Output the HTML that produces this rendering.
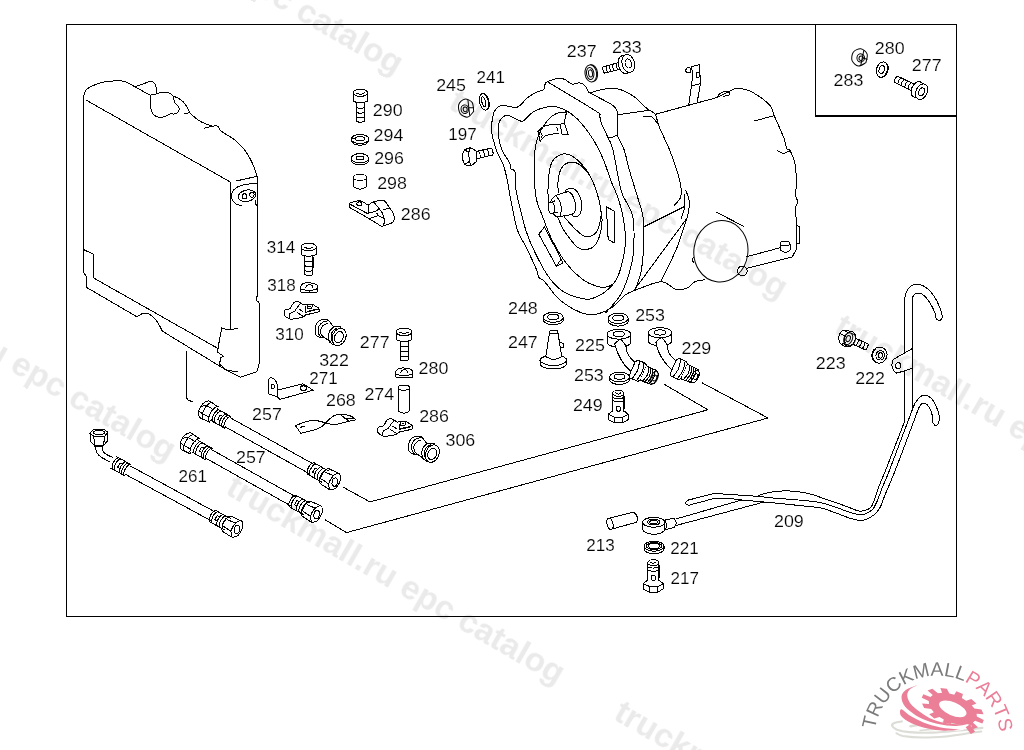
<!DOCTYPE html>
<html><head><meta charset="utf-8"><title>EPC catalog diagram</title>
<style>
html,body{margin:0;padding:0;background:#fff;}
body{width:1024px;height:750px;overflow:hidden;font-family:"Liberation Sans",sans-serif;}
svg{display:block;position:absolute;left:0;top:0;}
.wm text{font-family:"Liberation Sans",sans-serif;font-weight:bold;font-size:33px;fill:#eaeaea;}
.ink{shape-rendering:crispEdges;fill:none;stroke:#000;stroke-width:1;stroke-linecap:round;stroke-linejoin:round;}
.ink text{font-family:"Liberation Sans",sans-serif;fill:#000;stroke:#fff;stroke-width:0.16px;shape-rendering:auto;}
.logo text{font-family:"Liberation Sans",sans-serif;}
</style></head><body>
<svg width="1024" height="750" viewBox="0 0 1024 750">
<rect width="1024" height="750" fill="#fff"/>
<g class="ink" style="filter:grayscale(1)">
<path d="M66.5 24.5 L956.5 24.5 L956.5 616.5 L66.5 616.5Z" stroke-width="1.3"/>
<path d="M815.5 24.5 L815.5 116 L956.5 116" stroke-width="1.3"/>
<text x="372.8" y="115.6" textLength="29.8" lengthAdjust="spacingAndGlyphs" font-size="15.7">290</text>
<text x="373.6" y="141" textLength="29.8" lengthAdjust="spacingAndGlyphs" font-size="15.7">294</text>
<text x="374.2" y="163.6" textLength="29.8" lengthAdjust="spacingAndGlyphs" font-size="15.7">296</text>
<text x="377.2" y="188.6" textLength="29.8" lengthAdjust="spacingAndGlyphs" font-size="15.7">298</text>
<text x="400.8" y="219.6" textLength="29.8" lengthAdjust="spacingAndGlyphs" font-size="15.7">286</text>
<text x="436.2" y="91.2" textLength="29.8" lengthAdjust="spacingAndGlyphs" font-size="15.7">245</text>
<text x="476.6" y="83" textLength="28.5" lengthAdjust="spacingAndGlyphs" font-size="15.7">241</text>
<text x="448.3" y="140" textLength="28.5" lengthAdjust="spacingAndGlyphs" font-size="15.7">197</text>
<text x="566.8" y="56.9" textLength="29.8" lengthAdjust="spacingAndGlyphs" font-size="15.7">237</text>
<text x="611.9" y="52.6" textLength="29.8" lengthAdjust="spacingAndGlyphs" font-size="15.7">233</text>
<text x="833.6" y="86.2" textLength="29.8" lengthAdjust="spacingAndGlyphs" font-size="15.7">283</text>
<text x="874.8" y="54" textLength="29.8" lengthAdjust="spacingAndGlyphs" font-size="15.7">280</text>
<text x="911.8" y="71" textLength="29.8" lengthAdjust="spacingAndGlyphs" font-size="15.7">277</text>
<text x="266.8" y="252.6" textLength="28.5" lengthAdjust="spacingAndGlyphs" font-size="15.7">314</text>
<text x="267.2" y="290.6" textLength="28.5" lengthAdjust="spacingAndGlyphs" font-size="15.7">318</text>
<text x="275.2" y="339.6" textLength="28.5" lengthAdjust="spacingAndGlyphs" font-size="15.7">310</text>
<text x="319.2" y="365.6" textLength="29.8" lengthAdjust="spacingAndGlyphs" font-size="15.7">322</text>
<text x="359.8" y="348" textLength="29.8" lengthAdjust="spacingAndGlyphs" font-size="15.7">277</text>
<text x="418.6" y="373.6" textLength="29.8" lengthAdjust="spacingAndGlyphs" font-size="15.7">280</text>
<text x="309.2" y="384.4" textLength="28.5" lengthAdjust="spacingAndGlyphs" font-size="15.7">271</text>
<text x="326" y="405.6" textLength="29.8" lengthAdjust="spacingAndGlyphs" font-size="15.7">268</text>
<text x="252.1" y="419.6" textLength="29.8" lengthAdjust="spacingAndGlyphs" font-size="15.7">257</text>
<text x="236" y="462.9" textLength="29.8" lengthAdjust="spacingAndGlyphs" font-size="15.7">257</text>
<text x="178.4" y="481.6" textLength="28.5" lengthAdjust="spacingAndGlyphs" font-size="15.7">261</text>
<text x="364.4" y="400" textLength="29.8" lengthAdjust="spacingAndGlyphs" font-size="15.7">274</text>
<text x="419.2" y="421.6" textLength="29.8" lengthAdjust="spacingAndGlyphs" font-size="15.7">286</text>
<text x="445.5" y="445.6" textLength="29.8" lengthAdjust="spacingAndGlyphs" font-size="15.7">306</text>
<text x="508" y="313.6" textLength="29.8" lengthAdjust="spacingAndGlyphs" font-size="15.7">248</text>
<text x="508" y="348.4" textLength="29.8" lengthAdjust="spacingAndGlyphs" font-size="15.7">247</text>
<text x="635.2" y="320.9" textLength="29.8" lengthAdjust="spacingAndGlyphs" font-size="15.7">253</text>
<text x="575.1" y="350.6" textLength="29.8" lengthAdjust="spacingAndGlyphs" font-size="15.7">225</text>
<text x="574" y="381.4" textLength="29.8" lengthAdjust="spacingAndGlyphs" font-size="15.7">253</text>
<text x="572.9" y="411.1" textLength="29.8" lengthAdjust="spacingAndGlyphs" font-size="15.7">249</text>
<text x="681.5" y="353.9" textLength="29.8" lengthAdjust="spacingAndGlyphs" font-size="15.7">229</text>
<text x="815.8" y="369" textLength="29.8" lengthAdjust="spacingAndGlyphs" font-size="15.7">223</text>
<text x="855.2" y="383.6" textLength="29.8" lengthAdjust="spacingAndGlyphs" font-size="15.7">222</text>
<text x="774" y="526.8" textLength="29.8" lengthAdjust="spacingAndGlyphs" font-size="15.7">209</text>
<text x="586.2" y="551" textLength="28.5" lengthAdjust="spacingAndGlyphs" font-size="15.7">213</text>
<text x="670.2" y="554" textLength="28.5" lengthAdjust="spacingAndGlyphs" font-size="15.7">221</text>
<text x="670.6" y="584.4" textLength="28.5" lengthAdjust="spacingAndGlyphs" font-size="15.7">217</text>
<path d="M83.8 95.2 C84.2 94.3 84.6 91.5 86 90 C87.4 88.5 89 87.3 92 86 C95 84.7 99.1 82.8 104 82 C108.9 81.2 117.6 80.7 121.6 80.9 C125.6 81.1 125.8 82 128 83 C130.2 84 133.7 86.2 134.8 86.8"/>
<path d="M134.8 86.8 L150.2 95.2"/>
<path d="M134.8 86.8 C136.2 86.3 140.2 84.9 143 84 C145.8 83.1 149.2 81.1 151.3 81.3 C153.4 81.5 154.8 83.3 155.7 85.3 C156.6 87.2 156.6 91.7 156.8 93"/>
<path d="M150.2 95.2 C150.2 96.5 150.3 100.4 150.5 103 C150.7 105.6 150.7 108.6 151.3 110.6 C151.9 112.6 152.7 113.9 154 115 C155.3 116.1 157.2 117 159 117.2 C160.8 117.5 163.2 117 165 116.5 C166.8 116 168.5 114.3 170 113.9 C171.5 113.5 172.7 114.2 174 114 C175.3 113.8 176.9 113.5 177.7 112.8 C178.5 112.1 178.8 110.9 179 110 C179.2 109.1 179.3 108.3 178.8 107.3 C178.3 106.3 176.7 104.9 176 104 C175.3 103.1 174.8 102.6 174.4 101.8 C174 101 174 99.9 173.8 99 C173.6 98.1 173.8 97.1 173.3 96.3 C172.8 95.5 171.9 94.6 171 94 C170.1 93.4 169.1 92.9 167.8 92.6 C166.5 92.3 164.5 92.2 163 92.3 C161.5 92.4 160.5 92.6 159 93 C157.5 93.4 155.5 94.1 154 94.5 C152.5 94.9 150.8 95.1 150.2 95.2"/>
<path d="M173.3 96.3 C174.1 96.6 176.3 97.1 178 98 C179.7 98.9 181.7 100.3 183.2 101.8 C184.7 103.3 185.9 105.2 187 107 C188.1 108.8 189.3 111.8 189.8 112.8"/>
<path d="M184.3 113.5 L189.8 112.8"/>
<path d="M189.8 112.8 C190.7 113.6 193.2 116 195 117.5 C196.8 119 199 120.5 200.8 121.6 C202.6 122.7 204.2 123.3 206 124 C207.8 124.7 210.8 125.7 211.8 126"/>
<path d="M204.1 128.2 C205.2 127.9 208.8 126.9 211 126.5 C213.2 126.1 215.7 125.3 217.3 126 C218.9 126.7 220.1 130 220.6 130.8"/>
<path d="M220.6 130.8 C221.7 131.5 224.8 133.6 227 135 C229.2 136.4 231.7 137.6 233.8 139.2 C235.9 140.8 237.7 142.7 239.5 144.5 C241.3 146.3 243.3 148.4 244.8 150.2 C246.3 152 247.2 153.7 248.3 155.5 C249.4 157.3 250.5 159.4 251.4 161.2 C252.3 163 253.1 164.7 253.8 166.5 C254.5 168.3 255.3 170.5 255.8 172.2 C256.3 173.9 256.6 175.9 256.8 176.6"/>
<path d="M83.8 95.2 L83.8 272.8 L86 276.1 L86 287.1 L137 316.8"/>
<path d="M137 316.8 C137.9 316.2 140.7 314.1 142.5 313.5 C144.3 312.9 146.3 313 148 313.5 C149.7 314 151 315.2 152.5 316.5 C154 317.8 155.6 319.5 156.8 321.2 C158.1 322.9 159.1 324.9 160 326.5 C160.9 328.1 161.9 330.3 162.3 331.1"/>
<path d="M162.3 331.1 L227.2 370.7"/>
<path d="M86 100 L230.5 182.1 L230.5 328.9"/>
<path d="M83.8 249.7 L93 254.1 L93 277.6 L218.4 348.7"/>
<path d="M257.4 176.6 L257.4 296 L256 297.5 L256 300 L259 302.5 L259 364 L256.9 371.8 L240.4 377.3 L227.2 370.7"/>
<path d="M227.2 370.7 L237.1 371.4"/>
<path d="M237.1 328.5 L227.2 330 L221.7 327.8 L217.3 352 L223.9 356.4 L220.8 357.5 L219.5 364.1 L227.2 370.7"/>
<path d="M236 181 L255.8 176.6"/>
<path d="M257 183.5 C255 183.7 248.4 183.8 245 184.5 C241.6 185.2 238.7 186.1 236.5 187.5 C234.3 188.9 232.8 191.1 232 193 C231.2 194.9 231.3 197.2 232 199 C232.7 200.8 234.5 202.9 236 204 C237.5 205.1 240.2 205.2 241 205.5"/>
<ellipse cx="247" cy="195.7" rx="9" ry="5.6" transform="rotate(-12 247 195.7)"/>
<ellipse cx="244.4" cy="196.4" rx="2.2" ry="2.6"/>
<ellipse cx="251.9" cy="194.7" rx="2.2" ry="2.6"/>
<path d="M256 200 C255.8 200.5 254.8 202.1 255 203 C255.2 203.9 256.7 205.1 257 205.5"/>
<ellipse cx="360.4" cy="92.8" rx="7.2" ry="3.6"/>
<path d="M356.4 93 C357 93.2 359.1 94.3 360.4 94.3 C361.7 94.3 363.8 93.2 364.4 93"/>
<path d="M353.2 92.8 L353.2 101.2 Q360.4 104.6 367.6 101.2 L367.6 92.8"/>
<path d="M356.6 102.7 L356.6 121.2 Q360.4 123.4 364.2 121.2 L364.2 102.7"/>
<path d="M364.8 103.7 L364.8 114.4"/>
<path d="M356.6 107.6 Q360.4 109 364.2 107.6"/>
<path d="M356.6 112.5 Q360.4 113.9 364.2 112.5"/>
<path d="M356.6 117.3 Q360.4 118.7 364.2 117.3"/>
<ellipse cx="360" cy="139" rx="8.6" ry="4.6"/>
<ellipse cx="360" cy="138.7" rx="4.6" ry="2.1"/>
<path d="M351.4 139 v1.6 A8.6 4.6 0 0 0 368.6 140.6 v-1.6"/>
<path d="M351.6 137.6 L355.4 139.2"/>
<ellipse cx="360" cy="158.3" rx="8.6" ry="4.7"/>
<ellipse cx="360" cy="158" rx="4" ry="1.9"/>
<path d="M351.4 158.3 v1.9 A8.6 4.7 0 0 0 368.6 160.2 v-1.9"/>
<ellipse cx="360" cy="177.4" rx="6.8" ry="3"/>
<path d="M353.2 177.4 L353.2 186.4 Q360 192.1 366.8 186.4 L366.8 177.4"/>
<path d="M349.2 207.2 L349.2 203.2 L358.8 200.4 L363.2 202 L368 205.2 L368 213.6"/>
<path d="M349.2 207.2 L368 218 L381.6 226.4"/>
<path d="M350.4 204.4 L367.6 213.6"/>
<ellipse cx="359.4" cy="203.9" rx="2.6" ry="2"/>
<path d="M368 205.2 C368.9 204.7 371 202.8 373.6 202 C376.2 201.2 381.1 199.6 383.6 200.4 C386.1 201.2 387.2 204.7 388.8 206.8 C390.4 208.9 392.3 211.2 393.2 213.2 C394.1 215.2 394.6 217.2 394.4 218.8 C394.2 220.4 394.1 221.5 392 222.8 C389.9 224.1 383.3 225.8 381.6 226.4"/>
<path d="M373.6 202 C374.3 202.8 376.1 204.9 377.6 206.8 C379.1 208.7 381.3 211.1 382.4 213.2 C383.5 215.3 384.2 217.5 384.4 219.6 C384.6 221.7 383.7 224.9 383.6 226"/>
<path d="M368 212.6 C369.2 212.4 373.5 212.2 375.2 211.6 C376.9 211 377.9 209.6 378.4 209.2"/>
<path d="M383.6 209.2 L388.8 208.8"/>
<path d="M370 218.4 L378.4 215.6 L383.6 218.4"/>
<path d="M376.8 213.2 L379.2 216.4"/>
<g transform="rotate(-10 466.2 108.1)">
<path d="M473 112.7 C471.9 113.4 468.5 117.2 466.2 117.2 C463.9 117.2 460.5 114.9 459.4 112.7 C458.3 110.4 458.3 105.8 459.4 103.5 C460.5 101.3 463.9 99 466.2 99 C468.5 99 471.9 101.3 473 103.5 C474.1 105.8 473 111.1 473 112.7"/>
<ellipse cx="464.6" cy="108.9" rx="3.7" ry="4.3"/>
<ellipse cx="465" cy="109.1" rx="2" ry="2.4"/>
<path d="M469.3 100.4 L468.4 115.7"/>
<path d="M468.9 108.1 L473.6 109"/>
</g>
<g transform="rotate(-14 484 101.8)">
<ellipse cx="484" cy="101.8" rx="4.4" ry="8.4"/>
<path d="M484.6 93.4 A4.4 8.4 0 0 1 484.6 110.2"/>
<ellipse cx="483.7" cy="101.8" rx="1.8" ry="5.2"/>
</g>
<path d="M473.8 152 L491.2 148 Q493.8 151.1 492.8 155 L475.4 159"/>
<path d="M487 149 Q489.2 152.1 488.6 156"/>
<path d="M482.7 149.9 Q485 153.1 484.3 156.9"/>
<path d="M478.5 150.9 Q480.7 154.1 480.1 157.9"/>
<ellipse cx="474.5" cy="155.5" rx="0.1" ry="0.1" transform="rotate(167.2 474.5 155.5)" fill="#fff"/>
<ellipse cx="473.5" cy="155.7" rx="0.1" ry="0.1" transform="rotate(167.2 473.5 155.7)" fill="#fff"/>
<ellipse cx="473.5" cy="155.7" rx="0.1" ry="0.1" transform="rotate(167.2 473.5 155.7)"/>
<path d="M462.2 154.7 L464.7 149.6 L470.4 147.7 L476.1 150.9 L476.9 161 L471 166.1 L464.7 164.6 L462.2 158.5Z" fill="#fff"/>
<path d="M470.4 147.7 L468.6 152.5 L469.4 161.5 L471 166.1"/>
<path d="M464.7 149.6 L468.6 152.5"/>
<path d="M464.7 164.6 L469.4 161.5"/>
<g transform="rotate(-8 590.8 73.4)">
<ellipse cx="590.8" cy="73.4" rx="5.8" ry="8.6"/>
<path d="M591.8 64.8 A5.8 8.6 0 0 1 591.8 82"/>
<ellipse cx="590.5" cy="73.4" rx="2" ry="3.6"/>
</g>
<ellipse cx="590.2" cy="73.5" rx="3.7" ry="6" transform="rotate(-8 590.2 73.5)"/>
<path d="M624.9 67.8 L604.6 73.2 Q602.1 70.5 603 66.8 L623.2 61.4"/>
<path d="M607.9 72.3 Q605.6 69.5 606.2 65.9"/>
<path d="M611.2 71.5 Q608.9 68.6 609.5 65.1"/>
<path d="M614.4 70.6 Q612.2 67.8 612.8 64.2"/>
<path d="M617.7 69.7 Q615.4 66.9 616 63.3"/>
<ellipse cx="624.5" cy="64.5" rx="6.2" ry="9.2" transform="rotate(-14.9 624.5 64.5)" fill="#fff"/>
<ellipse cx="628.3" cy="63.5" rx="6.2" ry="9.2" transform="rotate(-14.9 628.3 63.5)" fill="#fff"/>
<ellipse cx="628.3" cy="63.5" rx="3.1" ry="4.6" transform="rotate(-14.9 628.3 63.5)"/>
<path d="M589.8 92.9 C589.5 92.7 589 92.8 588.2 91.6 C587.4 90.4 586.5 87.2 585 85.7 C583.5 84.2 581.5 83.1 579.4 82.8 C577.3 82.5 574.6 84.6 572.2 84.1 C569.8 83.6 567.1 80.6 565 79.6 C562.9 78.6 561.5 78 559.4 78 C557.3 78 554.5 79.1 552.2 79.9 C549.9 80.7 547.3 81.1 545.8 82.8 C544.3 84.5 544.7 88.5 543.4 90 C542.1 91.5 540.3 90.4 537.8 91.6 C535.3 92.8 531.4 94.7 528.2 97.2 C525 99.7 521.3 104.8 518.6 106.5 C515.9 108.2 514.9 107.3 512.2 107.1 C509.5 106.9 505.3 105.3 502.6 105.5 C499.9 105.7 497.9 106.3 496.2 108.4 C494.5 110.5 493.1 113.7 492.4 118 C491.7 122.3 491.8 130.3 492 134 C492.2 137.7 492.6 137 493.4 140 C494.2 143 495.4 148 497 152 C498.6 156 501.3 159.4 503 164 C504.7 168.6 505.9 173.6 507.2 179.6 C508.5 185.6 509.1 191.6 510.8 200 C512.5 208.4 514.9 222.2 517.4 230 C519.9 237.8 522.8 240.4 526 247 C529.2 253.6 534.3 264.3 536.4 269.4 C538.5 274.5 537.5 275.4 538.8 277.4 C540.1 279.4 541.2 277.9 544.4 281.4 C547.6 284.9 553.1 293.5 558 298.2 C562.9 302.9 569.2 306.7 574 309.4 C578.8 312.1 582.5 313.5 586.8 314.2 C591.1 314.9 595.3 314.6 599.6 313.4 C603.9 312.2 608.1 310.1 612.4 307 C616.7 303.9 621.5 297.8 625.2 295 C628.9 292.2 633.2 291 634.8 290.2"/>
<path d="M612.4 285.4 C610.8 286.7 606.5 291.1 602.8 293.4 C599.1 295.7 594.3 298.3 590 299 C585.7 299.7 582 298.9 577.2 297.4 C572.4 295.9 566.3 294.1 561.2 290.2 C556.1 286.3 551.6 281.4 546.8 274.2 C542 267 535.9 254.4 532.4 247 C528.9 239.6 527.7 235.8 525.8 230 C523.9 224.2 522.7 219 521 212 C519.3 205 516.6 194.7 515.6 188 C514.6 181.3 515.8 175 515 171.8 C514.2 168.6 511.7 170.3 510.8 168.8 C509.9 167.3 510.9 165.6 509.6 162.8 C508.3 160 504.7 155.5 503 152 C501.3 148.5 500.2 146.3 499.4 142 C498.6 137.7 497.9 130.1 498.4 126 C498.9 121.9 500.8 118.9 502.6 117.2 C504.4 115.5 506.6 115.2 509 115.6 C511.4 116 514.6 118.7 517 119.6 C519.4 120.5 521 122 523.4 120.9 C525.8 119.8 528.5 115.3 531.4 113.2 C534.3 111.1 537.5 109.5 541 108.4 C544.5 107.3 548.7 106.5 552.2 106.5 C555.7 106.5 558.6 107.2 561.8 108.4 C565 109.7 568.2 111.6 571.4 114 C574.6 116.4 577.3 118.4 581 122.8 C584.7 127.2 590.1 134.3 593.8 140.4 C597.5 146.5 600.5 152.7 603.4 159.6 C606.3 166.5 608.8 175.3 611.4 182 C614 188.7 616.6 192.8 618.8 200 C621 207.2 623.4 217.2 624.4 225 C625.4 232.8 625.7 239.6 625 247 C624.3 254.4 622.2 263.4 620.4 269.4 C618.6 275.4 616.4 280.1 614 283 C611.6 285.9 608.9 286.5 606 287 C603.1 287.5 600.4 287.5 596.4 286.2 C592.4 284.9 587.1 282.9 582 279 C576.9 275.1 571.1 269.7 566 263 C560.9 256.3 555.6 247 551.6 239 C547.6 231 544.5 221.5 542 215 C539.5 208.5 537.9 206.5 536.6 200 C535.3 193.5 534.5 183.8 534.2 176 C533.9 168.2 534 159.7 534.6 153.2 C535.2 146.7 535.9 142.3 537.8 137.2 C539.7 132.1 542.9 126.7 545.8 122.8 C548.7 118.9 551.9 115.8 555.4 114 C558.9 112.2 564.7 112.2 566.6 111.9"/>
<path d="M547.4 81.7 C555.4 86.5 586.7 105.2 595.4 110.8 C604.1 116.4 598.3 113.3 599.4 115.6 C600.5 117.9 600.3 120.7 601.8 124.4 C603.3 128.1 606.3 133.7 608.2 138 C610.1 142.3 610.9 141.3 613 150 C615.1 158.7 618.5 180.8 621 190 C623.5 199.2 626.1 200.8 628 205 C629.9 209.2 631.4 210.7 632.4 215 C633.4 219.3 633.9 224.3 634 231 C634.1 237.7 634.1 247.5 633.2 255 C632.3 262.5 630.5 269.1 628.4 275.8 C626.3 282.5 624.1 288.9 620.4 295 C616.7 301.1 608.4 309.7 606 312.6" stroke-width="1"/>
<path d="M589.8 92.9 C593.4 94.8 607 101.7 611.4 104.4 C615.8 107.1 615.1 107.5 616.2 109.2 C617.3 110.9 617.6 112.3 617.8 114.8 C618 117.3 617.5 120.7 617.4 124 C617.3 127.3 618.5 132.5 617 134.8 C615.5 137.1 609.7 137.5 608.2 138"/>
<path d="M617 134.8 C618.2 137.3 622.2 144.3 624.2 150 C626.2 155.7 627.1 162.1 629 168.8 C630.9 175.5 633.6 184 635.4 190 C637.2 196 638.8 200.8 640 205 C641.2 209.2 642.2 211.4 642.8 215 C643.4 218.6 643.7 221.4 643.8 226.7 C643.9 232 644 239.6 643.6 247 C643.2 254.4 642.4 264.3 641.2 271 C640 277.7 637.5 283.8 636.4 287 C635.3 290.2 635.1 289.7 634.8 290.2"/>
<path d="M589.8 92.9 C592.1 92.3 598.7 89.9 603.4 89.2 C608.1 88.5 612.8 87.7 617.8 88.9 C622.8 90.1 628.7 93 633.6 96.3 C638.5 99.6 643.6 105.8 647.2 108.8 C650.8 111.8 653 111.2 655.1 114.4 C657.2 117.6 657.2 122 659.7 128 C662.2 134.1 666.9 143.1 669.9 150.7 C672.9 158.3 675.9 167 677.8 173.4 C679.7 179.8 680.8 185.2 681.2 189.3 C681.6 193.5 681.2 195.7 680.1 198.3 C679 200.9 675.4 204 674.4 205.1"/>
<path d="M617.8 114.8 L649.5 110.3"/>
<path d="M643.8 116.7 C645.1 116.7 649.4 115.6 651.7 116.7 C654 117.8 656.5 122.4 657.4 123.5"/>
<path d="M655.1 114.4 L717.5 97.4 L735.6 88.3"/>
<path d="M717.5 97.4 C717.9 96.8 718.3 94.6 719.8 93.6 C721.3 92.6 724.9 91.1 726.6 91.3 C728.3 91.5 730.6 93.7 730 94.5 C729.4 95.3 724.3 96 723.2 96.3"/>
<path d="M735.6 88.3 C737.5 88.6 742.8 88.4 747 89.9 C751.2 91.4 756.6 94.6 760.6 97.4 C764.6 100.2 768.5 103.5 770.8 106.5 C773.1 109.5 772.9 112.4 774.2 115.6 C775.5 118.8 777 121.8 778.7 125.8 C780.4 129.8 783.1 135.6 784.4 139.4 C785.7 143.2 785.8 146.5 786.7 148.4 C787.7 150.3 788.8 148.4 790.1 150.7 C791.4 153 793.6 157.1 794.6 162 C795.6 166.9 796.2 174.5 796.4 180.2 C796.6 185.9 795.4 192.4 795.7 196 C796 199.6 798 199.8 798 201.7 C798 203.6 796 203.5 795.7 207.4 C795.4 211.3 796.3 218.1 796.4 225 C796.5 231.9 796.4 245 796.4 249"/>
<path d="M754.9 120.8 L774.2 115.6"/>
<path d="M777.6 150.7 C778.5 151.1 781.2 153.4 783.3 153.4 C785.4 153.4 789 151.1 790.1 150.7"/>
<path d="M796.4 249 L792.3 256.9 L747 268.2"/>
<path d="M745.9 256.9 L779.9 247.8"/>
<ellipse cx="785" cy="243.6" rx="5" ry="2.2"/>
<path d="M780 243.6 L780 250"/>
<path d="M790 243.6 L790 250.4"/>
<path d="M780 250 C780.8 250.4 783.3 252.3 785 252.4 C786.7 252.5 789.2 250.7 790 250.4"/>
<ellipse cx="742.4" cy="271" rx="4.8" ry="5"/>
<path d="M796.4 225 L799.6 227 L799.6 243 L796.4 243"/>
<path d="M688.8 104.6 C689.2 101.5 690.8 91 691.4 86 C692 81 692.6 77.9 692.6 74.7 C692.6 71.5 691.6 68.1 691.4 66.8"/>
<path d="M691.4 66.8 L699.4 64.5 L700.5 82.7 L697.1 103"/>
<ellipse cx="688.4" cy="70.2" rx="2.6" ry="2.6"/>
<path d="M696.2 72.5 L699.2 72.2 L699.4 77 L696.4 77.2Z"/>
<path d="M692 86 L700.2 83.6"/>
<path d="M685.8 190.4 C686.4 192.1 688.8 196.7 689.2 200.6 C689.6 204.5 688.9 209.6 688 214 C687.1 218.4 686 221 684 227 C682 233 679.9 240.9 676 250 C672.1 259.1 663.3 276.5 660.8 281.8"/>
<path d="M684.2 194 C684.3 195.3 685 199.5 685 202 C685 204.5 684.8 206.2 684.2 209 C683.6 211.8 681.7 217.1 681.2 218.7"/>
<path d="M644.9 226.3 L683.5 207"/>
<path d="M633.6 290.9 L686 219.5"/>
<path d="M633.6 290.9 C638.1 289.4 653.6 282 660.8 281.8 C668 281.6 672.2 288.9 676.7 289.8 C681.2 290.8 685 288.8 688 287.5 C691 286.2 692 283.1 694.8 281.8 C697.6 280.5 703.3 280 705 279.6"/>
<ellipse cx="720.9" cy="251.2" rx="27" ry="30.8" transform="rotate(8 720.9 251.2)"/>
<path d="M716.4 212.2 L743.6 226.3"/>
<path d="M693.7 257 C693.5 257.5 692.4 259 692.4 260 C692.4 261 693.7 262.5 694 263"/>
<path d="M548.6 176 C549.2 173.6 550 165.2 552.2 161.6 C554.4 158 558.6 155.4 561.8 154.4 C565 153.4 567.6 153.4 571.4 155.6 C575.2 157.8 581 163.2 584.6 167.6 C588.2 172 590.6 176.6 593 182 C595.4 187.4 597.6 194.6 599 200 C600.4 205.4 600.9 210.7 601.4 214.4 C601.9 218.1 602.3 218.4 602 222 C601.7 225.6 600.8 231.9 599.6 235.8 C598.4 239.7 596.9 243.1 594.8 245.4 C592.7 247.7 589.7 249.1 586.8 249.4 C583.9 249.7 580.9 250.1 577.2 247 C573.5 243.9 567.9 236.3 564.4 231 C560.9 225.7 558.8 219 556.4 215 C554 211 551.2 210.7 549.8 207.2 C548.4 203.7 548.2 199.2 548 194 C547.8 188.8 548.5 179 548.6 176"/>
<path d="M558.2 192.8 C558.2 190.6 557.6 183.8 558.2 179.6 C558.8 175.4 559.8 170.5 561.8 167.6 C563.8 164.7 567.2 162.7 570.2 162.2 C573.2 161.7 576.6 162.5 579.8 164.6 C583 166.7 587.8 173.1 589.4 174.8"/>
<path d="M564.2 216.8 C565.8 218.6 570.8 224.6 574 227.8 C577.2 231 580.7 234.5 583.6 235.8 C586.5 237.1 589.2 236.9 591.6 235.8 C594 234.7 596.4 233 598 229.4 C599.6 225.8 600.8 216.9 601.4 214.4"/>
<path d="M606.3 206.7 L614.3 211.2 L614.3 243 L608.2 239.6Z"/>
<path d="M566.6 111.9 L564.2 122.8 L568.2 134.8 L561.8 134 L560.2 124.4"/>
<path d="M537.8 131.6 C539 130.6 541.3 126.9 545 125.7 C548.7 124.5 557.7 124.6 560.2 124.4"/>
<path d="M560.2 124.4 L564.2 122.8"/>
<path d="M537.8 131.6 L540.2 141.2"/>
<path d="M540.2 141.2 C541.1 140.3 542.7 136.9 545.8 135.6 C548.9 134.3 556.5 133.6 558.6 133.2"/>
<path d="M541 133.5 C541.2 133.8 542.1 134.8 542.2 135.5 C542.3 136.2 541.5 137.2 541.4 137.5"/>
<path d="M556.4 127.2 C556.6 127.5 557.7 128.4 557.8 129 C557.9 129.6 557.1 130.7 557 131"/>
<path d="M544.4 227 L538.8 234.2 L556.4 266.2 L561.2 259 L562.8 263 L556.4 266.2"/>
<path d="M544.4 227 L561.2 259"/>
<path d="M550.2 202.6 C551.4 201 553.3 197.1 555.8 195.4 C558.3 193.7 563.3 193.1 565 192.2 C566.7 191.3 565.1 190.5 566.2 189.8 C567.3 189.1 570.1 188 571.8 188.2 C573.5 188.4 575.1 189.3 576.6 191 C578.1 192.7 579.7 195.7 580.6 198.2 C581.5 200.7 581.8 203.8 581.8 206.2 C581.8 208.6 581.2 211 580.6 212.6 C580 214.2 579.3 215.1 578.2 215.8 C577.1 216.5 574.9 216.9 573.8 216.6 C572.7 216.3 573.3 214.3 571.8 214.2 C570.3 214.1 567.5 215.4 565 215.8 C562.5 216.2 558.5 217 556.6 216.6 C554.7 216.2 554.7 214.5 553.4 213.4 C552.1 212.3 549.8 211.4 549 210 C548.2 208.6 548.4 206.2 548.6 205 C548.8 203.8 549 204.2 550.2 202.6Z" fill="#fff" stroke="none"/>
<ellipse cx="551.4" cy="207.8" rx="3.2" ry="5.8" transform="rotate(-6 551.4 207.8)"/>
<path d="M550.2 202.6 C550.6 201.9 551.7 199.4 552.6 198.2 C553.5 197 555.3 195.9 555.8 195.4"/>
<path d="M553.4 213.4 C553.6 213.7 554.1 214.9 554.6 215.4 C555.1 215.9 556.3 216.4 556.6 216.6"/>
<path d="M555.8 195.4 C556.5 196.4 558.9 199.2 559.8 201.4 C560.7 203.6 561.3 206.1 561.4 208.6 C561.5 211.1 560.4 215.3 560.2 216.6"/>
<path d="M555.8 195.4 L565 192.2"/>
<path d="M556.6 216.6 C558 216.5 562.5 216.2 565 215.8 C567.5 215.4 570.7 214.5 571.8 214.2"/>
<path d="M565 192.2 C565.9 192.2 568.7 191.3 570.2 192.4 C571.7 193.5 573.3 196.6 574.2 199 C575.1 201.4 575.8 204.7 575.8 207 C575.8 209.3 574.9 211.4 574.2 212.6 C573.5 213.8 572.2 213.9 571.8 214.2"/>
<path d="M565 192.2 C565.2 191.8 565.1 190.5 566.2 189.8 C567.3 189.1 570.1 188 571.8 188.2 C573.5 188.4 575.1 189.3 576.6 191 C578.1 192.7 579.7 195.7 580.6 198.2 C581.5 200.7 581.8 203.8 581.8 206.2 C581.8 208.6 581.2 211 580.6 212.6 C580 214.2 579.3 215.1 578.2 215.8 C577.1 216.5 574.9 216.9 573.8 216.6 C572.7 216.3 572.1 214.6 571.8 214.2"/>
<path d="M549.8 203 L554.6 201"/>
<path d="M553.4 212.6 L557.8 212.2"/>
<ellipse cx="553.3" cy="317.3" rx="10" ry="5"/>
<ellipse cx="553.3" cy="317" rx="5.5" ry="2.7"/>
<path d="M543.3 317.3 v2.5 A10 5 0 0 0 563.3 319.8 v-2.5"/>
<ellipse cx="618.3" cy="318.3" rx="10" ry="5.2"/>
<ellipse cx="618.3" cy="318" rx="5.5" ry="2.7"/>
<path d="M608.3 318.3 v2.6 A10 5.2 0 0 0 628.3 320.9 v-2.6"/>
<ellipse cx="619.5" cy="377" rx="10" ry="4.9"/>
<ellipse cx="619.5" cy="376.7" rx="5.5" ry="2.6"/>
<path d="M609.5 377 v2.5 A10 4.9 0 0 0 629.5 379.5 v-2.5"/>
<ellipse cx="553.7" cy="332" rx="4.2" ry="2"/>
<path d="M549.5 332.4 L545.8 356.7"/>
<path d="M557.9 332.4 L561.7 356.7"/>
<path d="M545.8 356.7 C547.1 357.2 550.9 359.5 553.5 359.5 C556.1 359.5 560.3 357.2 561.7 356.7"/>
<path d="M545.6 356 C544.7 356.5 541.1 357.9 540.4 359 C539.7 360.1 539.4 361.4 541.5 362.5 C543.6 363.6 549.4 365.8 553.3 365.8 C557.2 365.8 562.8 363.6 565 362.5 C567.2 361.4 566.9 360.1 566.4 359 C565.9 357.9 562.6 356.5 561.8 356"/>
<path d="M540.4 360.8 v3.2 A13 5 0 0 0 566.4 364 v-3.2"/>
<path d="M559.7 342.5 L563.6 343.5 L563.6 347.5 L560.3 347.5"/>
<ellipse cx="618.3" cy="393.3" rx="5.6" ry="3"/>
<path d="M615.8 392.9 C616.2 393.1 617.5 394.1 618.3 394.1 C619.1 394.1 620.4 393.1 620.8 392.9"/>
<path d="M612.7 393.3 L612.7 411.3"/>
<path d="M623.9 393.3 L623.9 411.3"/>
<path d="M624.6 396.3 L624.6 408.3"/>
<path d="M612.7 397.5 q5.6 2.6 11.2 0"/>
<path d="M612.7 400.7 q5.6 2.6 11.2 0"/>
<ellipse cx="618.3" cy="408.7" rx="2.2" ry="2.6"/>
<path d="M612.7 410.8 L608.3 414.3 L608.3 419.8 L614.8 422.9 L622.8 422.9 L628.3 419.5 L628.3 414.3 L623.9 410.8"/>
<path d="M608.3 414.3 L614.8 417.3 L622.8 417.3 L628.3 414.3"/>
<path d="M614.8 417.3 L614.8 422.9"/>
<path d="M622.8 417.3 L622.8 422.9"/>
<ellipse cx="653.3" cy="562.6" rx="5.6" ry="3"/>
<path d="M650.8 562.2 C651.2 562.4 652.5 563.4 653.3 563.4 C654.1 563.4 655.4 562.4 655.8 562.2"/>
<path d="M647.7 562.6 L647.7 580.6"/>
<path d="M658.9 562.6 L658.9 580.6"/>
<path d="M659.6 565.6 L659.6 577.6"/>
<path d="M647.7 566.8 q5.6 2.6 11.2 0"/>
<path d="M647.7 570 q5.6 2.6 11.2 0"/>
<ellipse cx="653.3" cy="578" rx="2.2" ry="2.6"/>
<path d="M647.7 580.1 L643.3 583.6 L643.3 589.1 L649.8 592.2 L657.8 592.2 L663.3 588.8 L663.3 583.6 L658.9 580.1"/>
<path d="M643.3 583.6 L649.8 586.6 L657.8 586.6 L663.3 583.6"/>
<path d="M649.8 586.6 L649.8 592.2"/>
<path d="M657.8 586.6 L657.8 592.2"/>
<ellipse cx="618.9" cy="334.2" rx="11.8" ry="5"/>
<ellipse cx="618.9" cy="334" rx="5.6" ry="2.6"/>
<path d="M607.1 334.2 v8 A11.8 5 0 0 0 630.7 342.2 v-8"/>
<path d="M614.7 344 C615.3 345.6 616.6 350.4 618.1 353.7 C619.6 357 621.7 361 623.8 363.9 C625.9 366.8 629.5 370.1 630.6 371.3" fill="#fff"/>
<path d="M626.6 346.9 C626.7 347.8 626.4 350.5 627.2 352.6 C628.1 354.7 630 357.5 631.7 359.4 C633.4 361.3 636.5 363.1 637.4 363.9"/>
<path d="M614.7 344 C615.3 345.6 616.6 350.4 618.1 353.7 C619.6 357 621.7 361 623.8 363.9 C625.9 366.8 628.3 371.3 630.6 371.3 C632.9 371.3 637.2 365.9 637.4 363.9 C637.6 361.9 633.4 361.3 631.7 359.4 C630 357.5 628.1 354.7 627.2 352.6 C626.4 350.5 626.7 347.8 626.6 346.9" fill="#fff" stroke="none"/>
<path d="M614.7 344 C615.3 345.6 616.6 350.4 618.1 353.7 C619.6 357 621.7 361 623.8 363.9 C625.9 366.8 629.5 370.1 630.6 371.3"/>
<path d="M626.6 346.9 C626.7 347.8 626.4 350.5 627.2 352.6 C628.1 354.7 630 357.5 631.7 359.4 C633.4 361.3 636.5 363.1 637.4 363.9"/>
<path d="M614.7 344 C615.7 343.2 618.7 339 620.7 339.5 C622.6 340 625.6 345.7 626.6 346.9"/>
<path d="M635 362.2 L637.6 360 L645.5 363.2 L646.5 365.8 L640.2 380.5 L637.6 381.3 L629.9 377.8 L629.7 374.4Z" fill="#fff"/>
<path d="M639.7 360.8 C639.4 362.4 638.8 367.4 637.5 370.4 C636.3 373.4 632.9 377.4 632 378.8"/>
<path d="M644.2 362.6 C643.8 364.2 643.3 369.3 642 372.3 C640.6 375.3 637.3 379.4 636.3 380.8"/>
<path d="M646.5 365.8 L657.1 371 L658.5 374.4 L654.7 383 L651.3 384.4 L640.2 380.5" fill="#fff"/>
<path d="M648.6 366.9 C648.4 368.2 648.5 372.3 647.5 374.7 C646.4 377.1 643.3 380.1 642.5 381.2"/>
<path d="M650.8 367.9 C650.6 369.2 650.7 373.3 649.7 375.6 C648.6 378 645.5 381 644.7 382.1"/>
<path d="M653 368.8 C652.8 370.1 652.9 374.2 651.9 376.6 C650.8 379 647.7 382 646.9 383.1"/>
<path d="M655.1 369.7 C654.9 371 654.9 375.1 653.9 377.5 C652.9 379.8 649.8 382.8 648.9 383.9"/>
<ellipse cx="654.2" cy="377.7" rx="3.4" ry="6.6" transform="rotate(23.3 654.2 377.7)"/>
<ellipse cx="654.5" cy="378" rx="2.2" ry="3" transform="rotate(23.3 654.5 378)"/>
<ellipse cx="660" cy="332.7" rx="11.8" ry="5"/>
<ellipse cx="660" cy="332.5" rx="5.6" ry="2.6"/>
<path d="M648.2 332.7 v8 A11.8 5 0 0 0 671.8 340.7 v-8"/>
<path d="M655.8 342.5 C656.3 344.2 657.5 349.3 659 352.6 C660.5 355.9 662.9 359.7 665 362.5 C667.1 365.3 670.7 368.4 671.8 369.6" fill="#fff"/>
<path d="M667.6 345.5 C667.7 346.4 667.4 349.1 668.2 351.2 C669 353.2 670.9 356 672.6 357.8 C674.3 359.6 677.4 361.5 678.4 362.2"/>
<path d="M655.8 342.5 C656.3 344.2 657.5 349.3 659 352.6 C660.5 355.9 662.9 359.7 665 362.5 C667.1 365.3 669.6 369.7 671.8 369.6 C674 369.6 678.3 364.2 678.4 362.2 C678.5 360.2 674.3 359.6 672.6 357.8 C670.9 356 669 353.2 668.2 351.2 C667.4 349.1 667.7 346.4 667.6 345.5" fill="#fff" stroke="none"/>
<path d="M655.8 342.5 C656.3 344.2 657.5 349.3 659 352.6 C660.5 355.9 662.9 359.7 665 362.5 C667.1 365.3 670.7 368.4 671.8 369.6"/>
<path d="M667.6 345.5 C667.7 346.4 667.4 349.1 668.2 351.2 C669 353.2 670.9 356 672.6 357.8 C674.3 359.6 677.4 361.5 678.4 362.2"/>
<path d="M655.8 342.5 C656.8 341.8 659.7 337.5 661.7 338 C663.7 338.5 666.6 344.2 667.6 345.5"/>
<path d="M676.1 360.5 L678.7 358.2 L686.5 361.5 L687.5 364.2 L681 378.8 L678.4 379.6 L670.8 376 L670.6 372.6Z" fill="#fff"/>
<path d="M680.8 359.1 C680.4 360.7 679.8 365.7 678.5 368.7 C677.2 371.7 673.8 375.6 672.8 377"/>
<path d="M685.3 361 C684.9 362.6 684.2 367.6 682.9 370.6 C681.5 373.7 678.1 377.6 677.2 379"/>
<path d="M687.5 364.2 L698.2 369.6 L699.5 373 L695.7 381.6 L692.2 382.9 L681 378.8" fill="#fff"/>
<path d="M689.6 365.3 C689.4 366.6 689.4 370.7 688.4 373.1 C687.3 375.5 684.2 378.4 683.3 379.5"/>
<path d="M691.8 366.3 C691.6 367.6 691.6 371.7 690.6 374.1 C689.5 376.4 686.4 379.4 685.5 380.5"/>
<path d="M694 367.3 C693.8 368.6 693.8 372.7 692.8 375.1 C691.7 377.4 688.5 380.4 687.7 381.4"/>
<path d="M696 368.2 C695.8 369.5 695.8 373.6 694.8 376 C693.7 378.3 690.6 381.3 689.7 382.3"/>
<ellipse cx="695.2" cy="376.3" rx="3.4" ry="6.6" transform="rotate(24.1 695.2 376.3)"/>
<ellipse cx="695.5" cy="376.6" rx="2.2" ry="3" transform="rotate(24.1 695.5 376.6)"/>
<path d="M230.4 417.8 L313.5 464.1"/>
<path d="M225.3 426.9 L308.5 473.2"/>
<path d="M217.1 408.8 L231 416.6"/>
<path d="M210.6 420.3 L224.6 428.1"/>
<path d="M219.2 410 L218.3 409.9 L217.2 410.3 L216 411.3 L214.7 412.7 L213.6 414.4 L212.7 416.3 L212.2 418.1 L212 419.6 L212.2 420.8 L212.8 421.5"/>
<path d="M221.4 411.2 L220.5 411.1 L219.4 411.5 L218.1 412.5 L216.9 413.9 L215.8 415.6 L214.9 417.5 L214.4 419.3 L214.2 420.9 L214.4 422 L215 422.7"/>
<path d="M226.7 414.1 L225.8 414 L224.6 414.4 L223.4 415.4 L222.2 416.8 L221 418.6 L220.2 420.4 L219.6 422.2 L219.4 423.8 L219.7 425 L220.3 425.7"/>
<path d="M228.9 415.4 L228 415.2 L226.8 415.7 L225.6 416.6 L224.3 418.1 L223.2 419.8 L222.4 421.6 L221.8 423.4 L221.6 425 L221.8 426.2 L222.4 426.9"/>
<path d="M231 416.6 L230.1 416.4 L229 416.9 L227.8 417.9 L226.5 419.3 L225.4 421 L224.5 422.8 L224 424.6 L223.8 426.2 L224 427.4 L224.6 428.1"/>
<path d="M220.4 415.2 L222.6 416.5"/>
<path d="M218 419.4 L220.3 420.7"/>
<path d="M220.2 415.1 L217.8 419.3"/>
<path d="M208.9 400.8 L218.1 406.8"/>
<path d="M200 417.8 L209.6 422.3"/>
<path d="M208.9 400.8 C208.3 401 206.3 401.2 205.1 402 C203.8 402.7 202.4 404.1 201.4 405.4 C200.4 406.8 199.5 408.6 199 410.1 C198.5 411.7 198.3 413.5 198.5 414.8 C198.7 416.1 199.8 417.3 200 417.8"/>
<path d="M218.1 406.8 L216.9 406.7 L215.4 407.2 L213.8 408.6 L212.1 410.4 L210.6 412.7 L209.4 415.2 L208.7 417.6 L208.5 419.7 L208.8 421.3 L209.6 422.3"/>
<path d="M212.3 402.9 L211 402.7 L209.4 403.4 L207.6 404.8 L205.9 406.8 L204.3 409.2 L203 411.9 L202.3 414.4 L202 416.7 L202.3 418.4 L203.2 419.4"/>
<path d="M206.3 405.4 L214.2 410.1"/>
<path d="M201.1 406.4 L206.3 405.4"/>
<path d="M202 413.4 L209 417.3"/>
<path d="M199.1 411.3 L202 413.4"/>
<path d="M314.2 462.9 L328.2 470.7"/>
<path d="M307.8 474.4 L321.8 482.2"/>
<path d="M314.2 462.9 L313.3 462.8 L312.2 463.2 L310.9 464.2 L309.7 465.6 L308.6 467.3 L307.7 469.2 L307.2 471 L307 472.5 L307.2 473.7 L307.8 474.4"/>
<path d="M316.5 464.2 L315.6 464 L314.5 464.5 L313.2 465.4 L312 466.9 L310.9 468.6 L310 470.4 L309.4 472.2 L309.3 473.8 L309.5 475 L310.1 475.7"/>
<path d="M321.6 467 L320.7 466.9 L319.6 467.3 L318.4 468.3 L317.1 469.7 L316 471.4 L315.1 473.3 L314.6 475.1 L314.4 476.7 L314.6 477.9 L315.2 478.6"/>
<path d="M324.3 468.5 L323.4 468.4 L322.2 468.8 L321 469.8 L319.7 471.2 L318.6 472.9 L317.8 474.8 L317.2 476.6 L317 478.1 L317.3 479.3 L317.8 480"/>
<path d="M326.9 470 L326 469.8 L324.9 470.3 L323.6 471.2 L322.4 472.7 L321.3 474.4 L320.4 476.2 L319.8 478 L319.7 479.6 L319.9 480.8 L320.5 481.5"/>
<path d="M315.3 468.1 L317.5 469.3"/>
<path d="M313 472.3 L315.2 473.5"/>
<path d="M315.1 467.9 L312.7 472.1"/>
<path d="M329.2 468.9 L338.3 473.1"/>
<path d="M320.8 484 L329.2 489.5"/>
<path d="M329.2 468.9 L328 468.7 L326.5 469.3 L324.9 470.6 L323.3 472.4 L321.8 474.7 L320.7 477.1 L319.9 479.5 L319.7 481.5 L320 483.1 L320.8 484"/>
<path d="M330 490 C329.8 489 328.2 486.3 328.8 483.9 C329.3 481.5 331.6 477.4 333.3 475.7 C335.1 474 338 472.9 339.2 473.6 C340.4 474.2 341 477.3 340.4 479.7 C339.9 482.1 337.6 486.2 335.9 487.9 C334.1 489.6 331 489.7 330 490"/>
<ellipse cx="334.8" cy="482.1" rx="2.7" ry="4.2" transform="rotate(11.1 334.8 482.1)"/>
<path d="M325.6 472.3 L333.4 475.7"/>
<path d="M321.8 479.2 L328.6 483.9"/>
<path d="M211.9 449.8 L295.4 496.6"/>
<path d="M206.9 458.8 L290.3 505.6"/>
<path d="M198.7 440.7 L212.6 448.5"/>
<path d="M192.2 452.2 L206.2 460.1"/>
<path d="M200.9 441.9 L199.9 441.8 L198.8 442.2 L197.6 443.2 L196.3 444.6 L195.2 446.3 L194.3 448.2 L193.8 450 L193.6 451.6 L193.8 452.7 L194.4 453.4"/>
<path d="M203 443.2 L202.1 443 L201 443.5 L199.7 444.4 L198.5 445.8 L197.4 447.6 L196.5 449.4 L195.9 451.2 L195.8 452.8 L196 454 L196.6 454.7"/>
<path d="M208.3 446.1 L207.4 446 L206.2 446.4 L205 447.4 L203.7 448.8 L202.6 450.5 L201.7 452.3 L201.2 454.1 L201 455.7 L201.2 456.9 L201.8 457.6"/>
<path d="M210.4 447.3 L209.5 447.2 L208.4 447.6 L207.2 448.6 L205.9 450 L204.8 451.7 L203.9 453.6 L203.4 455.4 L203.2 456.9 L203.4 458.1 L204 458.8"/>
<path d="M212.6 448.5 L211.7 448.4 L210.6 448.8 L209.3 449.8 L208.1 451.2 L207 452.9 L206.1 454.8 L205.5 456.6 L205.4 458.2 L205.6 459.4 L206.2 460.1"/>
<path d="M201.9 447.1 L204.2 448.4"/>
<path d="M199.6 451.3 L201.9 452.6"/>
<path d="M201.8 447 L199.4 451.2"/>
<path d="M190.5 432.7 L199.8 438.8"/>
<path d="M181.6 449.7 L191.1 454.2"/>
<path d="M190.5 432.7 C189.9 432.9 187.9 433.1 186.7 433.9 C185.4 434.6 184 436 183 437.3 C182 438.7 181.1 440.5 180.6 442 C180.1 443.6 179.9 445.4 180.1 446.7 C180.2 447.9 181.3 449.2 181.6 449.7"/>
<path d="M199.8 438.8 L198.6 438.6 L197 439.2 L195.4 440.5 L193.7 442.4 L192.2 444.7 L191 447.1 L190.3 449.5 L190 451.6 L190.3 453.2 L191.1 454.2"/>
<path d="M193.9 434.8 L192.6 434.6 L191 435.3 L189.3 436.7 L187.5 438.7 L185.9 441.1 L184.6 443.7 L183.8 446.3 L183.6 448.5 L183.9 450.3 L184.7 451.3"/>
<path d="M187.9 437.3 L195.8 442"/>
<path d="M182.7 438.2 L187.9 437.3"/>
<path d="M183.6 445.3 L190.6 449.2"/>
<path d="M180.7 443.1 L183.6 445.3"/>
<path d="M296.1 495.3 L310 503.2"/>
<path d="M289.6 506.9 L303.6 514.7"/>
<path d="M296.1 495.3 L295.2 495.2 L294 495.6 L292.8 496.6 L291.5 498 L290.4 499.7 L289.6 501.6 L289 503.4 L288.8 505 L289 506.1 L289.6 506.9"/>
<path d="M298.3 496.6 L297.4 496.5 L296.3 496.9 L295.1 497.9 L293.8 499.3 L292.7 501 L291.8 502.9 L291.3 504.7 L291.1 506.2 L291.3 507.4 L291.9 508.1"/>
<path d="M303.5 499.5 L302.6 499.4 L301.5 499.8 L300.2 500.8 L299 502.2 L297.8 503.9 L297 505.7 L296.4 507.5 L296.2 509.1 L296.4 510.3 L297 511"/>
<path d="M306.1 501 L305.2 500.8 L304.1 501.3 L302.8 502.2 L301.6 503.7 L300.5 505.4 L299.6 507.2 L299 509 L298.8 510.6 L299.1 511.8 L299.7 512.5"/>
<path d="M308.7 502.4 L307.8 502.3 L306.7 502.7 L305.4 503.7 L304.2 505.1 L303.1 506.8 L302.2 508.7 L301.6 510.5 L301.5 512 L301.7 513.2 L302.3 513.9"/>
<path d="M297.2 500.5 L299.4 501.8"/>
<path d="M294.8 504.7 L297 505.9"/>
<path d="M296.9 500.4 L294.6 504.6"/>
<path d="M311 501.4 L320.1 505.6"/>
<path d="M302.6 516.5 L310.9 522"/>
<path d="M311 501.4 L309.8 501.2 L308.4 501.8 L306.7 503 L305.1 504.9 L303.6 507.1 L302.5 509.6 L301.8 511.9 L301.5 514 L301.8 515.5 L302.6 516.5"/>
<path d="M311.8 522.5 C311.6 521.5 310 518.8 310.6 516.4 C311.1 514 313.4 509.9 315.1 508.2 C316.9 506.5 319.8 505.4 321 506.1 C322.2 506.8 322.8 509.8 322.2 512.2 C321.7 514.6 319.4 518.7 317.7 520.4 C315.9 522.1 312.8 522.1 311.8 522.5"/>
<ellipse cx="316.6" cy="514.6" rx="2.7" ry="4.2" transform="rotate(11.3 316.6 514.6)"/>
<path d="M307.4 504.7 L315.2 508.2"/>
<path d="M303.6 511.6 L310.4 516.3"/>
<path d="M186.5 351.4 L186.5 396"/>
<path d="M186.5 396 C186.7 396.6 186.5 398.5 187.5 399.5 C188.5 400.5 191.7 401.4 192.5 401.8"/>
<path d="M343.8 487.5 L370 501.9 L707.9 409.8 L663.9 384.1"/>
<path d="M325.4 520 L346.5 532.6 L768 418 L702.4 383"/>
<path d="M95.4 446 C95.6 447.1 95.8 450.8 96.8 452.7 C97.8 454.6 99.3 455.8 101.5 457.3 C103.7 458.8 108.5 461.1 109.9 461.8"/>
<path d="M102.2 446 C102.3 446.9 102.1 449.7 102.9 451.2 C103.7 452.7 105.4 453.7 107.1 454.8 C108.8 455.9 112 457.1 113 457.6"/>
<path d="M116.7 456.8 L130.8 464.4"/>
<path d="M110.6 468.1 L124.7 475.7"/>
<path d="M118.9 458 L118 457.9 L116.9 458.3 L115.7 459.3 L114.5 460.7 L113.5 462.3 L112.6 464.2 L112.1 465.9 L112 467.4 L112.2 468.6 L112.8 469.3"/>
<path d="M121.1 459.2 L120.2 459.1 L119.1 459.5 L117.9 460.5 L116.7 461.9 L115.7 463.5 L114.8 465.3 L114.3 467.1 L114.2 468.6 L114.4 469.8 L115 470.4"/>
<path d="M126.4 462.1 L125.5 461.9 L124.4 462.4 L123.2 463.3 L122 464.7 L120.9 466.4 L120.1 468.2 L119.6 470 L119.5 471.5 L119.7 472.6 L120.3 473.3"/>
<path d="M128.6 463.2 L127.7 463.1 L126.6 463.6 L125.4 464.5 L124.2 465.9 L123.1 467.6 L122.3 469.4 L121.8 471.1 L121.7 472.7 L121.9 473.8 L122.5 474.5"/>
<path d="M130.8 464.4 L129.9 464.3 L128.8 464.8 L127.6 465.7 L126.4 467.1 L125.3 468.8 L124.5 470.6 L124 472.3 L123.8 473.9 L124.1 475 L124.7 475.7"/>
<path d="M120.2 463 L122.4 464.3"/>
<path d="M117.9 467.2 L120.2 468.5"/>
<path d="M120 462.9 L117.7 467.1"/>
<path d="M130 465.8 L215.4 512.1"/>
<path d="M125.4 474.3 L210.8 520.6"/>
<path d="M216.1 510.7 L230.2 518.3"/>
<path d="M210 522 L224.1 529.6"/>
<path d="M216.1 510.7 L215.2 510.6 L214.1 511 L212.9 512 L211.8 513.4 L210.7 515.1 L209.9 516.9 L209.4 518.6 L209.2 520.1 L209.4 521.3 L210 522"/>
<path d="M218.4 511.9 L217.5 511.8 L216.4 512.3 L215.2 513.2 L214 514.6 L213 516.3 L212.2 518.1 L211.6 519.8 L211.5 521.4 L211.7 522.5 L212.3 523.2"/>
<path d="M223.6 514.8 L222.7 514.6 L221.6 515.1 L220.4 516 L219.2 517.4 L218.2 519.1 L217.3 520.9 L216.8 522.7 L216.7 524.2 L216.9 525.3 L217.5 526"/>
<path d="M226.2 516.2 L225.3 516.1 L224.3 516.5 L223.1 517.5 L221.9 518.9 L220.8 520.5 L220 522.3 L219.5 524.1 L219.3 525.6 L219.5 526.8 L220.1 527.4"/>
<path d="M228.9 517.6 L228 517.5 L226.9 517.9 L225.7 518.9 L224.5 520.3 L223.4 522 L222.6 523.8 L222.1 525.5 L222 527 L222.2 528.2 L222.8 528.9"/>
<path d="M217.4 515.7 L219.6 516.9"/>
<path d="M215.1 519.9 L217.3 521.1"/>
<path d="M217.1 515.6 L214.8 519.8"/>
<path d="M231.3 516.4 L240.4 520.5"/>
<path d="M223 531.6 L231.4 537"/>
<path d="M231.3 516.4 L230.1 516.2 L228.6 516.8 L227 518.1 L225.4 520 L223.9 522.2 L222.8 524.7 L222.1 527 L221.9 529.1 L222.2 530.7 L223 531.6"/>
<path d="M232.3 537.5 C232.1 536.5 230.5 533.8 231 531.4 C231.5 529 233.7 524.9 235.5 523.1 C237.2 521.4 240.1 520.3 241.3 520.9 C242.5 521.6 243.1 524.6 242.6 527 C242.1 529.4 239.9 533.5 238.1 535.3 C236.4 537 233.3 537.1 232.3 537.5"/>
<ellipse cx="237" cy="529.5" rx="2.7" ry="4.2" transform="rotate(10.5 237 529.5)"/>
<path d="M227.7 519.8 L235.5 523.2"/>
<path d="M223.9 526.7 L230.9 531.3"/>
<path d="M89.9 433 L93.6 429.6 L104 429.2 L108 432.4 L104.6 436.2 L93.8 436.4Z"/>
<ellipse cx="99" cy="432.6" rx="5.4" ry="2.1"/>
<path d="M89.9 433 L90.6 441.6 L94.6 445.4 L103.6 445.2 L107.6 441 L108 432.4"/>
<path d="M93.8 436.4 L94.6 445.4"/>
<path d="M104.6 436.2 L103.6 445.2"/>
<path d="M94.8 446.2 L102.6 446"/>
<ellipse cx="308.7" cy="247" rx="7.7" ry="3.9"/>
<path d="M304.4 247.2 C305.1 247.5 307.3 248.5 308.7 248.5 C310.1 248.5 312.3 247.5 313 247.2"/>
<path d="M301 247 L301 254.6 Q308.7 258 316.4 254.6 L316.4 247"/>
<path d="M304.8 256.1 L304.8 274.6 Q308.7 276.8 312.6 274.6 L312.6 256.1"/>
<path d="M313.2 257.1 L313.2 267.8"/>
<path d="M304.8 261 Q308.7 262.4 312.6 261"/>
<path d="M304.8 265.8 Q308.7 267.2 312.6 265.8"/>
<path d="M304.8 270.7 Q308.7 272.1 312.6 270.7"/>
<ellipse cx="404" cy="331.9" rx="7.8" ry="3.9"/>
<path d="M399.6 332.1 C400.4 332.3 402.5 333.4 404 333.4 C405.5 333.4 407.6 332.3 408.4 332.1"/>
<path d="M396.2 331.9 L396.2 339.8 Q404 343.2 411.8 339.8 L411.8 331.9"/>
<path d="M400 341.3 L400 359.9 Q404 362.1 408 359.9 L408 341.3"/>
<path d="M408.6 342.3 L408.6 353.1"/>
<path d="M400 346.2 Q404 347.6 408 346.2"/>
<path d="M400 351.1 Q404 352.5 408 351.1"/>
<path d="M400 356 Q404 357.4 408 356"/>
<path d="M300.3 291 C300.3 290.4 300.1 288.7 300.3 287.7 C300.5 286.7 301 285.7 301.6 285 C302.2 284.3 302.7 283.7 304 283.3 C305.3 282.9 307.5 282.7 309.3 282.8 C311.1 282.9 313.4 283.3 314.7 283.7 C315.9 284.1 316.3 284.4 316.8 285 C317.3 285.6 317.6 285.9 317.7 287 C317.8 288.1 317.7 290.6 317.7 291.3"/>
<path d="M317.7 291.3 L316.7 292.6 L310.2 292.7 L309.3 291.8 L308.5 292.7 L301.3 292.6 L300.3 291"/>
<path d="M300.6 289 C301.4 289.2 303.2 289.8 305.3 290 C307.4 290.2 311 290.3 313 290.1 C315 289.9 316.7 288.9 317.4 288.6"/>
<path d="M305.7 287.2 C306 286.9 306.6 285.6 307.4 285.2 C308.2 284.8 309.8 284.6 310.7 284.8 C311.6 285 312.3 285.7 312.7 286.2 C313.1 286.7 312.9 287.4 313 287.7"/>
<path d="M395.3 376.2 C395.3 375.6 395.1 373.9 395.3 372.9 C395.5 371.9 396 370.9 396.6 370.2 C397.2 369.5 397.7 368.9 399 368.5 C400.3 368.1 402.5 367.9 404.3 368 C406.1 368.1 408.4 368.5 409.7 368.9 C410.9 369.3 411.3 369.6 411.8 370.2 C412.3 370.8 412.6 371.1 412.7 372.2 C412.8 373.2 412.7 375.8 412.7 376.5"/>
<path d="M412.7 376.5 L411.7 377.8 L405.2 377.9 L404.3 377 L403.5 377.9 L396.3 377.8 L395.3 376.2"/>
<path d="M395.6 374.2 C396.4 374.4 398.2 375 400.3 375.2 C402.4 375.4 406 375.5 408 375.3 C410 375.1 411.7 374.1 412.4 373.8"/>
<path d="M400.7 372.4 C401 372.1 401.6 370.8 402.4 370.4 C403.2 370 404.8 369.8 405.7 370 C406.6 370.2 407.3 370.9 407.7 371.4 C408.1 371.9 407.9 372.6 408 372.9"/>
<path d="M284.2 315.2 C284.2 314.8 284 313.5 284.2 312.6 C284.4 311.7 284.3 310.6 285.3 309.9 C286.3 309.2 288.9 309.5 290.1 308.6 C291.3 307.7 291.6 305.8 292.3 304.7 C293 303.6 293.6 302.7 294.5 302.2 C295.4 301.7 296.6 301.5 297.6 301.6 C298.6 301.8 299.7 302.6 300.7 303.1 C301.7 303.7 303.2 304.6 303.7 304.9"/>
<path d="M303.7 304.9 L307.2 304.4 L312.7 304.4 L318.7 308.2 L319.5 311.5 L316 312.6 L305.9 314.8 L302.8 317.4 L295.4 318.7 L290.5 319.4"/>
<path d="M290.5 319.4 C289.9 319.1 287.7 318.1 286.6 317.4 C285.6 316.7 284.6 315.6 284.2 315.2"/>
<path d="M300.7 303.1 C300 304 297.7 306.8 296.7 308.2 C295.7 309.6 295.7 310.4 294.5 311.3 C293.3 312.2 290.6 312.7 289.7 313.9 C288.8 315.1 289.4 317.8 289.4 318.6"/>
<path d="M298.9 309.1 L302.8 311.3"/>
<path d="M297.1 312.4 L303.3 316.5"/>
<path d="M305.5 306.4 L305.5 312.4 L317.3 309.5"/>
<path d="M307.2 311.5 L316.6 309.2"/>
<path d="M307.2 304.4 L307.2 308 L311.6 308 L312.7 304.4"/>
<path d="M308.8 306.3 L310.4 306.3"/>
<path d="M377.7 432.4 C377.7 432 377.5 430.7 377.7 429.8 C377.9 428.9 377.8 427.8 378.8 427.1 C379.8 426.4 382.4 426.7 383.6 425.8 C384.8 424.9 385.1 423 385.8 421.9 C386.5 420.8 387.1 419.9 388 419.4 C388.9 418.9 390.1 418.6 391.1 418.8 C392.1 419 393.2 419.8 394.2 420.3 C395.2 420.9 396.7 421.8 397.2 422.1"/>
<path d="M397.2 422.1 L400.7 421.6 L406.2 421.6 L412.2 425.4 L413 428.7 L409.5 429.8 L399.4 432 L396.3 434.6 L388.9 435.9 L384 436.6"/>
<path d="M384 436.6 C383.4 436.3 381.2 435.3 380.1 434.6 C379.1 433.9 378.1 432.8 377.7 432.4"/>
<path d="M394.2 420.3 C393.5 421.1 391.2 424 390.2 425.4 C389.2 426.8 389.2 427.6 388 428.5 C386.8 429.4 384.1 429.9 383.2 431.1 C382.3 432.3 382.9 435 382.9 435.8"/>
<path d="M392.4 426.3 L396.3 428.5"/>
<path d="M390.6 429.6 L396.8 433.7"/>
<path d="M399 423.6 L399 429.6 L410.8 426.7"/>
<path d="M400.7 428.7 L410.1 426.4"/>
<path d="M400.7 421.6 L400.7 425.2 L405.1 425.2 L406.2 421.6"/>
<path d="M402.3 423.5 L403.9 423.5"/>
<path d="M326.9 319.3 C325.9 319.4 322.8 319 321 319.9 C319.2 320.8 317.2 322.3 316.2 324.4 C315.2 326.5 314.8 330.3 315.1 332.4 C315.4 334.4 316.6 335.8 317.8 336.7 C319.1 337.6 321.8 337.5 322.6 337.7"/>
<path d="M329 320.7 C328 320.9 324.8 321.1 323.1 322 C321.5 322.9 319.9 324.3 319.1 326 C318.3 327.7 318.1 330.6 318.3 332.4 C318.5 334.2 319.8 335.8 320.5 336.7 C321.2 337.6 322.4 337.6 322.8 337.8"/>
<path d="M326.9 319.3 L329 320.7"/>
<path d="M327.4 323.3 C326.7 323.7 324.2 324.4 323.1 325.5 C322 326.6 321.1 328.3 320.7 329.7 C320.3 331.1 320.5 332.8 321 334 C321.5 335.2 322.6 336.2 323.7 337.2 C324.8 338.2 327.2 339.4 327.9 339.9"/>
<path d="M329 320.7 L333.8 327.1"/>
<path d="M327.9 339.9 L330.6 343"/>
<path d="M333.8 327.1 C333.2 327.6 331 329 330.1 330.3 C329.2 331.6 328.7 333.5 328.5 335.1 C328.3 336.7 328.4 338.4 329 339.9 C329.6 341.4 331.7 343.4 332.2 344.1"/>
<path d="M337 328.1 C336.3 328.6 333.7 330 332.7 331.3 C331.7 332.6 331.2 334.4 331.1 336.1 C331 337.8 331.5 339.9 332.2 341.4 C332.9 342.9 334.9 344.6 335.4 345.2"/>
<path d="M333.8 327.1 L334.9 326.3 L341.2 327.1"/>
<path d="M332.2 344.1 L335.4 345.2"/>
<ellipse cx="339.1" cy="336.9" rx="6.6" ry="9.1" transform="rotate(24 339.1 336.9)"/>
<ellipse cx="338.9" cy="337.2" rx="4.3" ry="5.8" transform="rotate(24 338.9 337.2)"/>
<path d="M420.2 436 C419.2 436.1 416.1 435.8 414.3 436.6 C412.5 437.4 410.5 439 409.5 441.1 C408.5 443.2 408.1 447 408.4 449.1 C408.7 451.1 409.9 452.5 411.1 453.4 C412.4 454.3 415.1 454.2 415.9 454.4"/>
<path d="M422.3 437.4 C421.3 437.6 418.1 437.8 416.4 438.7 C414.8 439.6 413.2 441 412.4 442.7 C411.6 444.4 411.4 447.3 411.6 449.1 C411.8 450.9 413.1 452.5 413.8 453.4 C414.6 454.3 415.7 454.3 416.1 454.5"/>
<path d="M420.2 436 L422.3 437.4"/>
<path d="M420.7 440 C420 440.4 417.5 441.1 416.4 442.2 C415.3 443.3 414.4 445 414 446.4 C413.6 447.8 413.8 449.4 414.3 450.7 C414.8 451.9 415.9 452.9 417 453.9 C418.1 454.9 420.5 456.1 421.2 456.6"/>
<path d="M422.3 437.4 L427.1 443.8"/>
<path d="M421.2 456.6 L423.9 459.7"/>
<path d="M427.1 443.8 C426.5 444.3 424.3 445.7 423.4 447 C422.5 448.3 422 450.2 421.8 451.8 C421.6 453.4 421.7 455.1 422.3 456.6 C422.9 458.1 425 460.1 425.5 460.8"/>
<path d="M430.3 444.8 C429.6 445.3 427 446.7 426 448 C425 449.3 424.5 451.1 424.4 452.8 C424.3 454.5 424.8 456.6 425.5 458.1 C426.2 459.6 428.2 461.3 428.7 461.9"/>
<path d="M427.1 443.8 L428.2 443 L434.5 443.8"/>
<path d="M425.5 460.8 L428.7 461.9"/>
<ellipse cx="432.4" cy="453.6" rx="6.6" ry="9.1" transform="rotate(24 432.4 453.6)"/>
<ellipse cx="432.2" cy="453.9" rx="4.3" ry="5.8" transform="rotate(24 432.2 453.9)"/>
<ellipse cx="403.8" cy="387.6" rx="5.8" ry="2.6"/>
<path d="M398 387.6 L398 410.8 Q403.8 415.7 409.6 410.8 L409.6 387.6"/>
<path d="M268.1 393.5 C268.1 391.4 267.9 383.6 268.1 381.1 C268.3 378.6 268.6 379.1 269.2 378.6 C269.8 378.1 270.6 377.8 271.6 378 C272.6 378.2 274.1 378.9 275 380 C275.9 381.1 276.8 383.1 277.2 384.5 C277.6 385.9 277.6 386 277.7 388.1 C277.8 390.2 277.7 395.7 277.7 397.2"/>
<path d="M268.1 393.5 L277.7 397.2 L279.9 399.4 L313.2 390.2 L303 383.8 L277.7 390.2"/>
<ellipse cx="272.9" cy="386.5" rx="1.6" ry="2.2"/>
<ellipse cx="303.5" cy="388.1" rx="3.2" ry="2.3"/>
<path d="M300.5 387 C300.9 386.7 302 385.1 303 385 C304 384.9 305.8 386.2 306.4 386.4"/>
<path d="M295.4 425.7 C296.8 425.1 300.9 423.3 304 422.4 C307.1 421.5 310.3 420.3 313.7 420.3 C317.1 420.3 321.8 421.9 324.5 422.5 C327.2 423.1 327.9 423.7 330 424 C332.1 424.3 334.6 424.4 337.3 424.1 C340 423.8 342.9 422.7 346 422 C349.1 421.3 354 420.2 355.6 419.8"/>
<path d="M355.6 419.8 C355.1 419.3 353.6 417.7 352.5 417 C351.4 416.3 350.8 416 349.2 415.5 C347.6 415 345 414.4 343 414.2 C341 414 339.1 413.9 337.3 414.4 C335.5 414.9 333.7 415.8 332 417 C330.3 418.2 328.6 420 327 421.5 C325.4 423 324.4 424.7 322.5 426 C320.6 427.3 318.3 428.6 315.9 429.5 C313.5 430.4 310.5 430.9 308 431.5 C305.5 432.1 302 432.9 300.8 433.2"/>
<path d="M300.8 433.2 L295.4 425.7"/>
<path d="M300.5 427.6 C300.9 427.4 301.9 426.6 302.6 426.4 C303.4 426.2 304.6 426.2 305 426.2"/>
<path d="M341.6 415.5 L344.9 418.2 L354.6 418.8"/>
<path d="M344.9 418.2 L349 421.2"/>
<path d="M942.4 317 C942 315.5 941.4 311.5 940 308 C938.6 304.5 936.3 299.4 934 296 C931.7 292.6 928.7 289.4 926 287.4 C923.3 285.4 920.5 284.4 918 284.2 C915.5 284 913 284.7 911 286 C909 287.3 907.3 289.7 906.2 292 C905.1 294.3 904.7 298.7 904.4 300"/>
<path d="M904.4 300 L904.4 422"/>
<path d="M904.4 422 C901.3 430 890 459.1 885.7 470 C881.4 480.9 880.4 482.3 878.4 487.6 C876.4 492.9 874.9 498.7 873.6 502 C872.3 505.3 872 506.2 870.5 507.6 C869 509 866.7 509.9 864.7 510.5 C862.8 511.1 860.9 511.3 858.8 511 C856.7 510.7 854.4 509.5 852 508.6 C849.6 507.7 848.8 507.2 844.2 505.6 C839.6 504 830.3 500.8 824.6 498.8 C818.9 496.9 814.7 495.1 810 493.9 C805.3 492.7 800.6 492 796.4 491.5 C792.2 491 788.4 490.9 785 490.9 C781.6 490.9 779.1 491.1 775.9 491.5 C772.7 491.9 768.9 492.5 766 493.2 C763.1 493.9 759.6 495.2 758.3 495.6"/>
<path d="M936 318 C935.8 317.2 936 315.5 935 313 C934 310.5 931.8 305.9 930 303 C928.2 300.1 926 297.1 924 295.4 C922 293.7 919.7 293 918 293 C916.3 293 914.6 294.2 913.6 295.4 C912.6 296.6 912.4 299.2 912.2 300"/>
<path d="M912.2 300 L912.2 410"/>
<path d="M936 318 C936.3 318.3 936.8 319.7 937.6 320 C938.4 320.3 940.2 320.3 941 319.8 C941.8 319.3 942.2 317.5 942.4 317"/>
<path d="M916 402 C916.6 401.2 918.1 398.5 919.4 397.4 C920.7 396.3 922.4 395.4 924 395.2 C925.6 395 927.3 395.3 929 396.4 C930.7 397.5 932.5 399.6 934 402 C935.5 404.4 937.1 408.3 938 411 C938.9 413.7 939.4 415.9 939.4 418 C939.4 420.1 938.9 422.4 938.2 423.6 C937.5 424.8 936.1 425.5 935.2 425.4 C934.3 425.3 933.4 423.4 933 423"/>
<path d="M933 423 C932.9 421.8 932.9 418.4 932.4 416 C931.9 413.6 930.9 410.5 930 408.6 C929.1 406.7 928 405.5 927 404.6 C926 403.7 925 403.2 924 403.2 C923 403.2 921.9 403.5 921 404.4 C920.1 405.3 919 407.7 918.6 408.4"/>
<path d="M916 402 C915.4 403.3 916.6 398.7 912.2 410 C907.8 421.3 894.6 457.1 889.6 470 C884.6 482.9 884.4 482.3 882.3 487.6 C880.2 492.9 878.4 498.4 876.8 502 C875.2 505.6 874.4 507.5 872.5 509.5 C870.6 511.5 868 512.9 865.7 513.8 C863.4 514.6 861.6 514.7 858.8 514.4 C856 514.1 853.1 513.3 849 512 C844.9 510.7 839.3 508.4 834.4 506.8 C829.5 505.2 825.8 503.5 819.8 502.4 C813.8 501.3 806 500.7 798.4 500 C790.8 499.3 780.6 498.7 773.9 498.1 C767.2 497.5 765.6 497 758.3 496.4 C751 495.8 736.7 494.9 730 494.5 C723.3 494.1 720.8 493.8 718 493.7 C715.2 493.6 717.9 492.8 713 493.8 C708.1 494.9 692.7 499 688.6 500"/>
<path d="M918.6 408.4 C914.7 418.7 901 455.7 895.4 470 C889.8 484.3 887.7 488.2 885.2 494.4 C882.7 500.6 882.1 503.8 880.3 507.1 C878.5 510.4 876.8 512.4 874.5 514.4 C872.2 516.4 869.2 518.3 866.6 519.3 C864 520.3 861.7 520.5 858.8 520.3 C855.9 520.1 853.1 519.2 849 517.9 C844.9 516.6 839.1 514 834.4 512.4 C829.7 510.8 825.4 509 821 508 C816.6 507 813.5 507 808.1 506.4 C802.7 505.8 795.9 505.1 788.6 504.4 C781.3 503.7 772 502.7 764.2 502 C756.4 501.3 747.4 500.6 741.7 500 C736 499.4 733.8 498.9 730 498.6 C726.2 498.3 721.7 498.3 719 498.3 C716.3 498.3 719.1 497.4 714 498.6 C708.9 499.8 692.8 504.2 688.6 505.3"/>
<path d="M688.6 500 C688.2 500.3 686.6 500.9 686.2 501.6 C685.8 502.3 685.6 503.4 686 504 C686.4 504.6 688.2 505.1 688.6 505.3"/>
<path d="M676.2 518.9 L741.7 500"/>
<path d="M676.7 525.3 L764.2 502"/>
<path d="M912.2 348.6 L893.3 359.5 C891.6 362 891.2 367 893.4 370.2 C894.4 371.6 895.6 372.6 896.8 373.2 L912.2 368.3" fill="#fff"/>
<ellipse cx="898.1" cy="365.7" rx="2.5" ry="3.1"/>
<ellipse cx="653.7" cy="522.3" rx="11.2" ry="4.9"/>
<ellipse cx="653.7" cy="522.1" rx="6" ry="2.7"/>
<ellipse cx="653.7" cy="522.1" rx="3.9" ry="1.7"/>
<path d="M642.5 522.3 v6.4 A11.2 5.6 0 0 0 664.9 528.7 v-6.4"/>
<path d="M664.9 519.9 L674.2 518.4"/>
<path d="M665.4 529.9 L674.2 527.2"/>
<path d="M674.2 518.4 C674.6 519.2 676.4 521.5 676.4 523 C676.4 524.5 674.6 526.5 674.2 527.2"/>
<path d="M664.9 519.9 C665.2 520.8 666.5 523.3 666.6 525 C666.7 526.7 665.6 529.1 665.4 529.9"/>
<ellipse cx="610" cy="523.8" rx="2.9" ry="5.6" transform="rotate(-14 610 523.8)"/>
<path d="M608.6 518.4 L633.2 512.1"/>
<path d="M611.6 529.2 L636.1 522.3"/>
<path d="M633.2 512.1 C633.7 512.5 635.4 513.3 636.1 514.5 C636.8 515.7 637.6 518.1 637.6 519.4 C637.6 520.7 636.4 521.8 636.1 522.3"/>
<ellipse cx="654" cy="546.2" rx="10" ry="5"/>
<ellipse cx="654" cy="545.9" rx="5.6" ry="2.7"/>
<path d="M644 546.2 v2.5 A10 5 0 0 0 664 548.7 v-2.5"/>
<ellipse cx="654" cy="546" rx="7.6" ry="3.7"/>
<path d="M852.6 336.9 L868.1 343.9 Q868.4 347.6 865.5 349.9 L849.9 342.9"/>
<path d="M864.9 342.4 Q864.9 346.1 862.2 348.5"/>
<path d="M861.7 341 Q861.7 344.6 859 347"/>
<path d="M858.5 339.5 Q858.5 343.2 855.8 345.6"/>
<ellipse cx="851" cy="339.8" rx="4.2" ry="6.2" transform="rotate(-155.9 851 339.8)" fill="#fff"/>
<ellipse cx="848.2" cy="338.6" rx="4.2" ry="6.2" transform="rotate(-155.9 848.2 338.6)" fill="#fff"/>
<ellipse cx="848.2" cy="338.6" rx="2.1" ry="3.1" transform="rotate(-155.9 848.2 338.6)"/>
<path d="M850 331.4 C849 331.2 845.7 329.9 844 330.2 C842.3 330.5 840.9 331.8 840 333.4 C839.1 335 838.6 337.7 838.8 339.6 C839 341.5 839.9 343.4 841.2 344.6 C842.5 345.8 844.8 346.5 846.4 346.8 C848 347.1 849.9 346.6 850.6 346.6"/>
<path d="M844 330.2 L848.4 332.6"/>
<path d="M840 333.4 L845 336"/>
<path d="M841.2 344.6 L845.4 342.8"/>
<ellipse cx="849.8" cy="339" rx="5.4" ry="7.6" transform="rotate(24 849.8 339)"/>
<ellipse cx="879.4" cy="355.1" rx="7.6" ry="8.1" transform="rotate(20 879.4 355.1)"/>
<path d="M874.2 361 C873.9 360.3 872.8 358.5 872.6 357 C872.4 355.5 872.6 353.4 873.2 352 C873.8 350.6 875.5 349.2 876 348.6"/>
<ellipse cx="880.2" cy="355.3" rx="4.3" ry="4.7" transform="rotate(20 880.2 355.3)"/>
<ellipse cx="880.4" cy="355.4" rx="2.3" ry="2.7" transform="rotate(20 880.4 355.4)"/>
<g transform="rotate(8 859.6 57.4)">
<path d="M866.6 61.7 C865.4 62.5 861.9 66.1 859.6 66.1 C857.3 66.1 853.8 63.9 852.6 61.7 C851.5 59.6 851.5 55.2 852.6 53.1 C853.8 50.9 857.3 48.7 859.6 48.7 C861.9 48.7 865.4 50.9 866.6 53.1 C867.7 55.2 866.6 60.3 866.6 61.7"/>
<ellipse cx="860.8" cy="57.8" rx="3.8" ry="4.1"/>
<ellipse cx="861.2" cy="58" rx="2.1" ry="2.3"/>
<path d="M862.8 50 L861.9 64.6"/>
<path d="M862.3 57.4 L867.2 58.2"/>
</g>
<g transform="rotate(18 882 69.6)">
<ellipse cx="882" cy="69.6" rx="5.4" ry="7.8"/>
<path d="M882.7 61.8 A5.4 7.8 0 0 1 882.7 77.4"/>
<ellipse cx="881.7" cy="69.6" rx="2.6" ry="4"/>
</g>
<path d="M915.2 92.4 L894.5 82.3 Q894.4 78.4 897.5 76.1 L918.2 86.1"/>
<path d="M897.8 84 Q898 80.2 900.9 77.7"/>
<path d="M901.2 85.6 Q901.4 81.8 904.3 79.3"/>
<path d="M904.6 87.3 Q904.8 83.5 907.7 81"/>
<path d="M908 88.9 Q908.2 85.1 911 82.6"/>
<ellipse cx="917.2" cy="89.5" rx="5.6" ry="8.2" transform="rotate(26 917.2 89.5)" fill="#fff"/>
<ellipse cx="921.6" cy="91.7" rx="5.6" ry="8.2" transform="rotate(26 921.6 91.7)" fill="#fff"/>
<ellipse cx="921.6" cy="91.7" rx="2.8" ry="4.1" transform="rotate(26 921.6 91.7)"/>
</g>
<g class="wm" style="mix-blend-mode:multiply">
<text transform="translate(62.5 -116.5) rotate(30)" textLength="384" lengthAdjust="spacingAndGlyphs">truckmall.ru epc catalog</text>
<text transform="translate(447 107.8) rotate(30)" textLength="384" lengthAdjust="spacingAndGlyphs">truckmall.ru epc catalog</text>
<text transform="translate(832.5 332.5) rotate(30)" textLength="384" lengthAdjust="spacingAndGlyphs">truckmall.ru epc catalog</text>
<text transform="translate(-164.8 270) rotate(30)" textLength="384" lengthAdjust="spacingAndGlyphs">truckmall.ru epc catalog</text>
<text transform="translate(224.2 493.2) rotate(30)" textLength="384" lengthAdjust="spacingAndGlyphs">truckmall.ru epc catalog</text>
<text transform="translate(612.2 718.7) rotate(30)" textLength="384" lengthAdjust="spacingAndGlyphs">truckmall.ru epc catalog</text>
</g>
<g class="logo" style="filter:brightness(1)">
<text font-size="19.4" text-anchor="middle" fill="#7b7b7b" transform="translate(876.2 723.8) rotate(-76.6)">T</text>
<text font-size="19.4" text-anchor="middle" fill="#7b7b7b" transform="translate(880.5 711.6) rotate(-64.8)">R</text>
<text font-size="19.4" text-anchor="middle" fill="#7b7b7b" transform="translate(887.8 699.7) rotate(-52)">U</text>
<text font-size="19.4" text-anchor="middle" fill="#7b7b7b" transform="translate(897.6 689.7) rotate(-39.2)">C</text>
<text font-size="19.4" text-anchor="middle" fill="#7b7b7b" transform="translate(908.9 682.4) rotate(-26.9)">K</text>
<text font-size="19.4" text-anchor="middle" fill="#7b7b7b" transform="translate(922.5 677.3) rotate(-13.6)">M</text>
<text font-size="19.4" text-anchor="middle" fill="#7b7b7b" transform="translate(936.9 675.6) rotate(-0.3)">A</text>
<text font-size="19.4" text-anchor="middle" fill="#7b7b7b" transform="translate(948.7 676.7) rotate(10.6)">L</text>
<text font-size="19.4" text-anchor="middle" fill="#7b7b7b" transform="translate(959.1 679.5) rotate(20.4)">L</text>
<text font-size="19.4" text-anchor="middle" fill="#ea7f97" transform="translate(969.7 684.7) rotate(31.3)">P</text>
<text font-size="19.4" text-anchor="middle" fill="#ea7f97" transform="translate(980 692.5) rotate(43.1)">A</text>
<text font-size="19.4" text-anchor="middle" fill="#ea7f97" transform="translate(988.8 702.7) rotate(55.4)">R</text>
<text font-size="19.4" text-anchor="middle" fill="#ea7f97" transform="translate(995 714) rotate(67.2)">T</text>
<text font-size="19.4" text-anchor="middle" fill="#ea7f97" transform="translate(998.7 725.9) rotate(78.6)">S</text>
<path d="M901.8 721.4 C900.6 721.6 895.9 722.3 894.3 723 C892.7 723.7 891.8 724.6 892.1 725.7 C892.5 726.7 893.6 728.3 896.4 729.4 C899.3 730.5 903.2 731.6 909.3 732.1 C915.4 732.6 924.7 732.9 933 732.6 C941.2 732.4 950.5 731.3 958.8 730.5 C967 729.7 978.4 728.3 982.4 727.8" fill="none" stroke="#dcddd6" stroke-width="2.2" stroke-linecap="round"/>
<path d="M896.4 733.2 C897.5 733.6 898.6 735.1 902.9 735.9 C907.2 736.6 915.1 737.4 922.2 737.5 C929.4 737.6 938.7 737 945.9 736.4 C953 735.8 959.3 734.5 965.2 733.7 C971.1 732.9 978.6 731.9 981.3 731.6" fill="none" stroke="#dcddd6" stroke-width="2.0" stroke-linecap="round"/>
<path d="M910.4 726.2 C912.4 725.9 916.7 725.1 922.2 724.6 C927.8 724 936.5 723 943.7 723 C950.9 723 960 723.9 965.2 724.6 C970.4 725.3 973.3 726.8 974.9 727.3" fill="none" stroke="#dcddd6" stroke-width="2.4" stroke-linecap="round"/>
<path d="M920.1 730.5 C923.1 730.2 931.9 729.4 938.3 728.9 C944.8 728.3 953.2 727.4 958.8 727.3 C964.3 727.2 969.5 728.2 971.6 728.3" fill="none" stroke="#dcddd6" stroke-width="1.6" stroke-linecap="round"/>
<path d="M25.2 -2.2 L32.9 -1.9 L32.9 1.9 L25.2 2.2 L23.8 4.8 L30.4 7.1 L26.7 10.5 L19.8 8.6 L16.1 10.5 L19.6 14.2 L13.3 16.2 L9.1 12.7 L4.1 13.4 L3.6 17.6 L-3.6 17.6 L-4.1 13.4 L-9.1 12.7 L-13.3 16.2 L-19.6 14.2 L-16.1 10.5 L-19.8 8.6 L-26.7 10.5 L-30.4 7.1 L-23.8 4.8 L-25.2 2.2 L-32.9 1.9 L-32.9 -1.9 L-25.2 -2.2 L-23.8 -4.8 L-30.4 -7.1 L-26.7 -10.5 L-19.8 -8.6 L-16.1 -10.5 L-19.6 -14.2 L-13.3 -16.2 L-9.1 -12.7 L-4.1 -13.4 L-3.6 -17.6 L3.6 -17.6 L4.1 -13.4 L9.1 -12.7 L13.3 -16.2 L19.6 -14.2 L16.1 -10.5 L19.8 -8.6 L26.7 -10.5 L30.4 -7.1 L23.8 -4.8Z M-14.6 0 A14.6 6.6 0 1 0 14.6 0 A14.6 6.6 0 1 0 -14.6 0Z" fill="#ea7f97" fill-rule="evenodd" transform="translate(952.8 708.8) rotate(23)"/>
<path d="M922.2 684.3 C922.9 684.6 912.8 687.2 910.4 689.1 C908 691.1 907.5 693.4 907.7 696.1 C907.9 698.8 909.2 702.4 911.5 705.2 C913.7 708.1 917.2 710.8 921.2 713.3 C925.1 715.8 929.9 718.5 935.1 720.3 C940.3 722.1 946.9 723.6 952.3 724.3 C957.7 724.9 964.1 723.8 967.3 724.3 C970.6 724.8 973.1 726.2 971.6 727.3 C970.2 728.3 963.8 730 958.8 730.5 C953.7 730.9 947.1 730.7 941.6 730 C936 729.2 930.8 727.9 925.4 726.2 C920.1 724.5 913.6 722.3 909.3 719.7 C905 717.2 901.5 715.1 899.7 711.2 C897.9 707.2 897.5 700.1 898.6 696.1 C899.7 692.2 902.2 689.5 906.1 687.5 C910.1 685.6 921.5 684 922.2 684.3Z" fill="#fff"/>
<path d="M918.1 685 C917.4 685.2 908.9 687.8 906.1 689.7 C903.4 691.5 902 693.6 901.6 696.1 C901.2 698.6 902.1 702 903.8 704.7 C905.4 707.4 908.4 709.9 911.5 712.2 C914.6 714.6 917.8 716.7 922.2 718.7 C926.7 720.6 933 722.8 938.3 724 C943.7 725.3 949.8 726 954.5 726 C959.1 726 967.2 724.4 966.5 724 C965.8 723.7 955.7 724.6 950.2 723.8 C944.6 723.1 938 721.5 933 719.5 C928 717.6 923.8 714.7 920.1 712 C916.3 709.3 912.6 706.2 910.4 703.4 C908.3 700.6 907.2 697.5 907.2 695 C907.2 692.6 908.8 690.5 910.6 688.8 C912.5 687.1 918.9 684.9 918.1 685Z" fill="#ea7f97"/>
<path d="M901.3 709.2 C899.6 709.1 899.5 713.8 901.2 716.1 C902.9 718.4 907.1 721.1 911.5 723.2 C915.9 725.3 922.2 727.3 927.6 728.6 C933 729.8 938.4 730.5 943.7 730.7 C949 730.9 959.6 730.1 959.6 729.6 C959.6 729.2 949 728.8 943.7 727.9 C938.4 727 933 725.9 927.6 724 C922.2 722.1 915.9 719 911.5 716.5 C907.1 714.1 903 709.3 901.3 709.2Z" fill="#ea7f97"/>
<path d="M965.7 727.3 L970 724.3 L975.1 731.8 L970.8 734.1Z" fill="#ea7f97"/>
</g>
</svg>
</body></html>
